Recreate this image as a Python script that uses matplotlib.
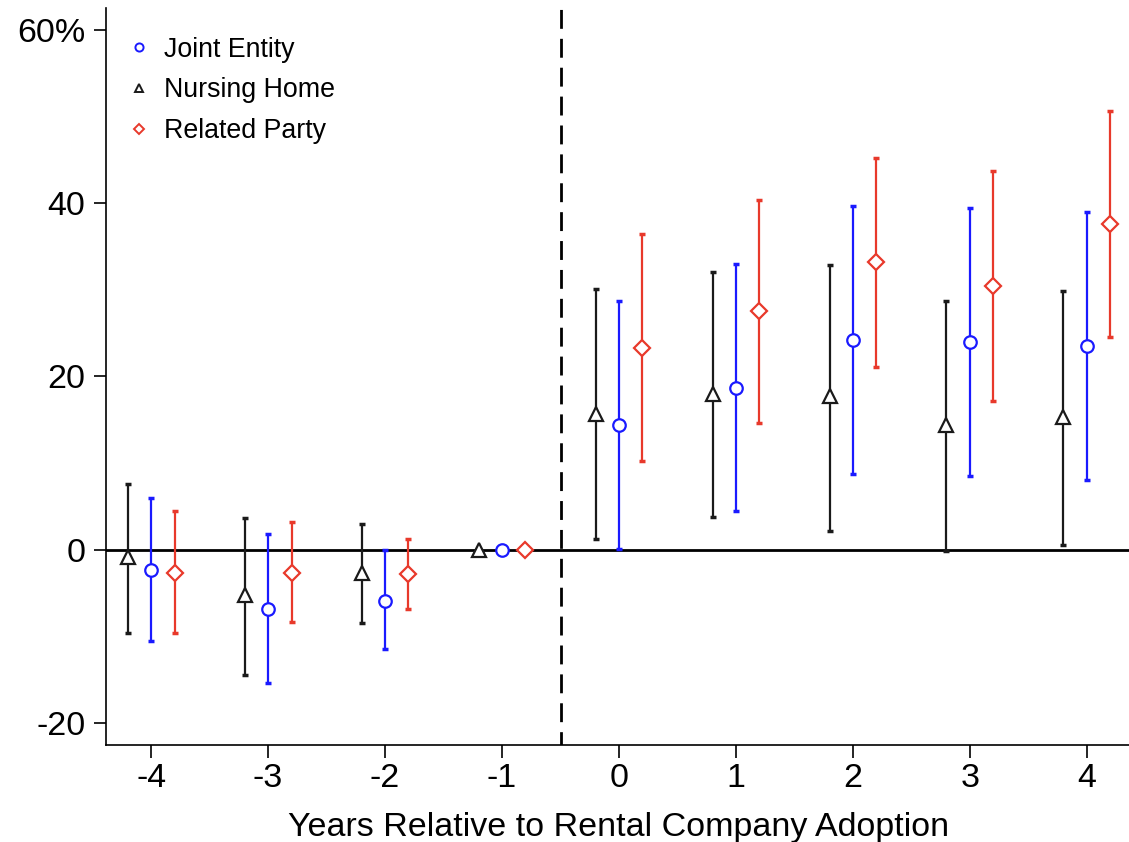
import matplotlib as mpl
import matplotlib.pyplot as plt
import numpy as np

mpl.use('Agg')
plt.rcParams['font.family'] = ['Liberation Sans', 'DejaVu Sans']

years = [-4, -3, -2, -1, 0, 1, 2, 3, 4]
tick_labels = ['-4', '-3', '-2', '-1', '0', '1', '2', '3', '4']

# point estimates and 95% bounds
joint_est = [-2.4, -6.9, -5.95, 0, 14.4, 18.7, 24.2, 24.0, 23.5]
joint_lo = [-10.6, -15.4, -11.5, 0, 0.1, 4.4, 8.7, 8.5, 8.0]
joint_hi = [5.9, 1.8, -0.1, 0, 28.7, 33.0, 39.7, 39.5, 39.0]

nursing_est = [-0.9, -5.3, -2.75, 0, 15.7, 18.0, 17.7, 14.4, 15.3]
nursing_lo = [-9.7, -14.5, -8.5, 0, 1.2, 3.7, 2.1, -0.2, 0.5]
nursing_hi = [7.6, 3.6, 2.9, 0, 30.1, 32.1, 32.9, 28.7, 29.9]

related_est = [-2.7, -2.7, -2.8, 0, 23.3, 27.5, 33.2, 30.4, 37.6]
related_lo = [-9.7, -8.4, -6.9, 0, 10.2, 14.6, 21.1, 17.2, 24.5]
related_hi = [4.5, 3.2, 1.25, 0, 36.4, 40.4, 45.2, 43.7, 50.7]

yticks = [-20, 0, 20, 40, 60]
ytick_labels = ['-20', '0', '20', '40', '60%']

series = [
    ('Joint Entity', joint_est, joint_lo, joint_hi, 0.0, 'o', '#1a1aff', 9),
    ('Nursing Home', nursing_est, nursing_lo, nursing_hi, -0.2, '^', '#1a1a1a', 9.5),
    ('Related Party', related_est, related_lo, related_hi, 0.2, 'D', '#e8392b', 8),
]

fig = plt.figure(figsize=(11.29, 8.42), dpi=100)
ax = fig.add_axes([0.094, 0.115, 0.907, 0.876])

ax.axhline(0, color='black', lw=2, zorder=1)
ax.axvline(-0.5, color='black', lw=2, ls=(2, (6.8, 3.6)), zorder=1)

x = np.array(years, dtype=float)
for name, est, lo, hi, off, mk, col, ms in series:
    est = np.array(est)
    err = np.vstack([est - np.array(lo), np.array(hi) - est])
    has_ci = (err.sum(axis=0) > 0)
    ax.errorbar(x[has_ci] + off, est[has_ci], yerr=err[:, has_ci], fmt='none',
                ecolor=col, elinewidth=1.6, capsize=2, capthick=2.5, zorder=2)
    ax.plot(x + off, est, ls='none', marker=mk, ms=ms, mfc='white', mec=col,
            mew=1.6, zorder=3)
    ax.plot([], [], ls='none', marker=mk, ms=ms * 0.65, mfc='white', mec=col,
            mew=1.4, label=name)

ax.set_xlim(-4.385, 4.37)
ax.set_ylim(-22.6, 62.6)
ax.set_xticks(years)
ax.set_xticklabels(tick_labels)
ax.set_yticks(yticks)
ax.set_yticklabels(ytick_labels)
ax.tick_params(axis='both', direction='out', length=9, width=1.2, labelsize=24.5)
ax.tick_params(axis='x', pad=4)
ax.tick_params(axis='y', pad=6)

for side in ['top', 'right']:
    ax.spines[side].set_visible(False)
for side in ['left', 'bottom']:
    ax.spines[side].set_linewidth(1.2)

ax.set_xlabel('Years Relative to Rental Company Adoption', fontsize=24.5, labelpad=13)

ax.legend(loc='upper left', bbox_to_anchor=(0.003, 0.986), frameon=False, fontsize=19.3,
          handlelength=0.8, handletextpad=0.55, labelspacing=0.55, borderaxespad=0.3)

fig.savefig('out.png', dpi=100)
